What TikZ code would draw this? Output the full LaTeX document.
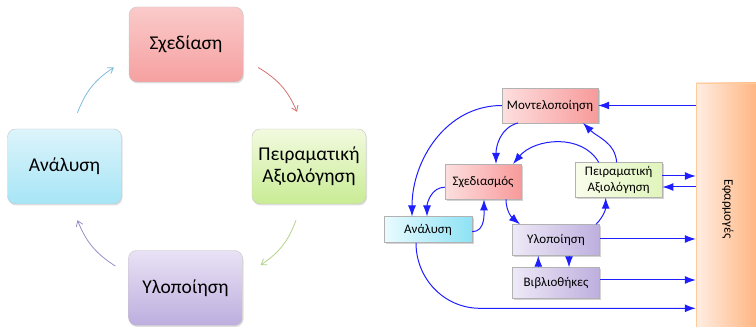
\documentclass[tikz,border=0pt]{standalone}
\usepackage{fontspec}
\setmainfont{Carlito}
\usetikzlibrary{
  arrows.meta,
  shadows
}
% colours
\definecolor{redtop}{HTML}{FACACA}
\definecolor{redbot}{HTML}{F6A0A0}
\definecolor{greentop}{HTML}{F2FADF}
\definecolor{greenbot}{HTML}{C9EC94}
\definecolor{violettop}{HTML}{E9E2F5}
\definecolor{violetbot}{HTML}{BDAEDE}
\definecolor{cyantop}{HTML}{DDF4FB}
\definecolor{cyanbot}{HTML}{A6E5F6}
\definecolor{redlight}{HTML}{FDDFDF}
\definecolor{reddark}{HTML}{F89A9A}
\definecolor{greenlight}{HTML}{F8FDEB}
\definecolor{greendark}{HTML}{E0F5BB}
\definecolor{cyanlight}{HTML}{EAFBFE}
\definecolor{cyandark}{HTML}{8DE2F5}
\definecolor{violetlight}{HTML}{EEE9F7}
\definecolor{violetdark}{HTML}{BEAFDE}
\definecolor{orangelight}{HTML}{FFEEE3}
\definecolor{orangedark}{HTML}{FFB27D}
\definecolor{flowblue}{HTML}{1E1EFF}
\definecolor{arrcyan}{HTML}{7DBBD9}
\definecolor{arrred}{HTML}{D57070}
\definecolor{arrgreen}{HTML}{B5D38A}
\definecolor{arrviolet}{HTML}{9C8DC4}

\begin{document}
\begin{tikzpicture}[
      x=1pt,y=1pt,
      phase/.style={
         rectangle,
         rounded corners=8pt,
         minimum width=114pt,
         minimum height=75pt,
         draw=black!22,
         align=center,
         font=\fontsize{19.5}{22}\selectfont,
         drop shadow={shadow xshift=1pt,shadow yshift=-1.5pt,opacity=0.25}
      },
      block/.style={
         rectangle,
         draw=black!30,
         align=center,
         inner sep=2pt,
         font=\fontsize{13}{16.5}\selectfont,
         drop shadow={shadow xshift=1.5pt,shadow yshift=-1.5pt,opacity=0.35}
      },
      apps/.style={
         rectangle,
         draw=orange!40,
         left color=orangelight,right color=orangedark,
         font=\fontsize{13}{15}\selectfont
      },
      cycle arrow/.style={-{Straight Barb[length=5pt,width=7pt]},line width=0.8pt},
      flow/.style={-{Latex[length=11pt,width=8pt]},flowblue,line width=1pt}
    ]
    \useasboundingbox (0,0) rectangle (756,327);

    % left: the cycle
    \node (sxed) [phase, top color=redtop, bottom color=redbot] at (186,282.5) {Σχεδίαση};
    \node (peir) [phase, top color=greentop, bottom color=greenbot] at (309,160.5) {Πειραματική\\Αξιολόγηση};
    \node (ylop) [phase, top color=violettop, bottom color=violetbot] at (185.5,39) {Υλοποίηση};
    \node (anal) [phase, top color=cyantop, bottom color=cyanbot] at (64.5,160.5) {Ανάλυση};

    \draw[cycle arrow, draw=arrcyan] ([xshift=13pt,yshift=16pt]anal.north) to[bend left=18] ([xshift=-15pt,yshift=-23pt]sxed.west);
    \draw[cycle arrow, draw=arrred] ([xshift=15pt,yshift=-23pt]sxed.east) to[bend left=18] ([xshift=-12pt,yshift=17pt]peir.north);
    \draw[cycle arrow, draw=arrgreen] ([xshift=-13pt,yshift=-16pt]peir.south) to[bend left=18] ([xshift=18pt,yshift=23pt]ylop.east);
    \draw[cycle arrow, draw=arrviolet] ([xshift=-13pt,yshift=22pt]ylop.west) to[bend left=18] ([xshift=13pt,yshift=-16pt]anal.south);

    % right: the blocks
    \node (mont) [block, left color=redlight, right color=reddark, minimum width=96pt, minimum height=34.5pt] at (550,221.5) {Μοντελοποίηση};
    \node (sxedm) [block, left color=redlight, right color=reddark, minimum width=76pt, minimum height=35pt] at (483,145.3) {Σχεδιασμός};
    \node (peirm) [block, left color=greenlight, right color=greendark, minimum width=87pt, minimum height=35pt] at (618.7,147) {Πειραματική\\Αξιολόγηση};
    \node (analm) [block, left color=cyanlight, right color=cyandark, minimum width=88pt, minimum height=26pt] at (428,97.3) {Ανάλυση};
    \node (ylopm) [block, left color=violetlight, right color=violetdark, minimum width=87pt, minimum height=31pt] at (556,87) {Υλοποίηση};
    \node (vivl) [block, left color=violetlight, right color=violetdark, minimum width=87pt, minimum height=31pt] at (556,44) {Βιβλιοθήκες};
    \node (app) [apps, rotate=-90, minimum width=252pt, minimum height=64pt] at (728,118) {Εφαρμογές};
    \coordinate (lowbend) at (480,18.7);

    % right: the flows
    \draw[flow] (app.south |- mont.east) -- (mont.east);
    \draw[flow] (mont.west) to[out=180,in=90] ([xshift=-16pt]analm.north);
    \draw[flow] ([xshift=-32pt]mont.south) to[out=195,in=90] ([xshift=13pt]sxedm.north);
    \draw[flow] ([xshift=-2pt]peirm.north) to[out=95,in=-45] ([xshift=33pt]mont.south);
    \draw[flow] ([xshift=-20pt]peirm.north) to[out=120,in=50] ([xshift=30pt]sxedm.north);
    \draw[flow] ([yshift=-5.5pt]sxedm.west) to[out=180,in=90] ([xshift=-1pt]analm.north);
    \draw[flow] ([yshift=-2pt]analm.east) to[out=0,in=-90] ([xshift=1pt]sxedm.south);
    \draw[flow] ([xshift=23pt]sxedm.south) to[out=-90,in=140] ([xshift=-36pt]ylopm.north);
    \draw[flow] ([xshift=40pt]ylopm.north) to[out=45,in=-90] ([xshift=-13pt]peirm.south);
    \draw[flow] ([yshift=4pt]peirm.east) -- ([yshift=4pt]app.south |- peirm.east);
    \draw[flow] ([yshift=-7pt]app.south |- peirm.east) -- ([yshift=-7pt]peirm.east);
    \draw[flow] ([yshift=1pt]ylopm.east) -- ([yshift=1pt]app.south |- ylopm.east);
    \draw[flow] ([yshift=3pt]vivl.east) -- ([yshift=3pt]app.south |- vivl.east);
    \draw[flow] ([xshift=-17.7pt]vivl.north) -- ([xshift=-17.7pt]ylopm.south);
    \draw[flow] ([xshift=13pt]ylopm.south) -- ([xshift=13pt]vivl.north);
    \draw[flow] ([xshift=-12pt]analm.south) to[out=-90,in=180] (lowbend) -- (app.south |- lowbend);
\end{tikzpicture}
\end{document}
